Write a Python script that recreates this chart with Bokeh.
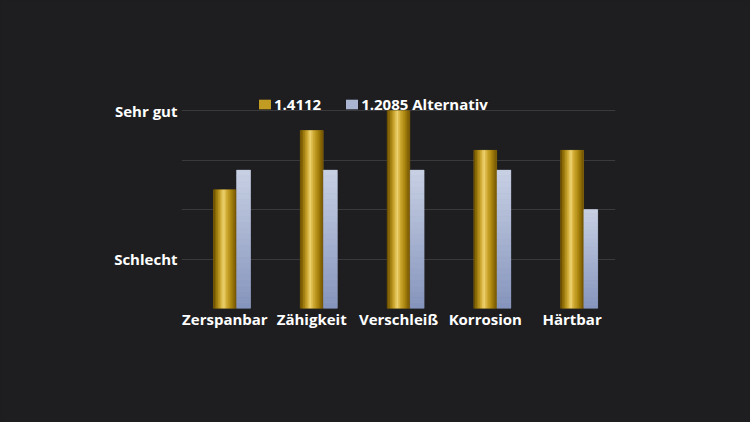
from bokeh.plotting import figure
from bokeh.models import Range1d, FixedTicker, Legend, LegendItem
from bokeh.embed import file_html
from bokeh.resources import INLINE

# Daten
kategorien = ["Zerspanbar", "Zähigkeit", "Verschleiß", "Korrosion", "Härtbar"]
werte_14112 = [2.4, 3.6, 4.0, 3.2, 3.2]
werte_12085 = [2.8, 2.8, 2.8, 2.8, 2.0]
reihen = ["1.4112", "1.2085 Alternativ"]
y_labels = {0: "", 1: "Schlecht", 2: "", 3: "", 4: "Sehr gut"}

BG = "#1e1e20"
FONT = "Open Sans"


def mix(c1, c2, t):
    a = [int(c1[i:i + 2], 16) for i in (1, 3, 5)]
    b = [int(c2[i:i + 2], 16) for i in (1, 3, 5)]
    return "#%02x%02x%02x" % tuple(round(a[k] + (b[k] - a[k]) * t) for k in range(3))


def gradient(stops, t):
    for (t0, c0), (t1, c1) in zip(stops, stops[1:]):
        if t <= t1:
            return mix(c0, c1, (t - t0) / (t1 - t0) if t1 > t0 else 0)
    return stops[-1][1]


gold_stops = [(0.0, "#604600"), (0.15, "#98760a"), (0.33, "#d2ae38"), (0.45, "#f2d878"),
              (0.57, "#d4b03a"), (0.78, "#aa850d"), (1.0, "#6e5003")]
silber_stops = [(0.0, "#8594bc"), (1.0, "#c8d0e4")]

# Rahmen 181..615 x 88..308, y-Skala 0..4.45 (Platz für die Legende)
p = figure(width=750, height=422, output_backend="svg", toolbar_location=None, tools="",
           x_range=Range1d(-0.5, 4.5), y_range=Range1d(0, 4.45),
           background_fill_color=BG, border_fill_color=BG,
           outline_line_color=None,
           min_border_left=181, min_border_right=135, min_border_top=88, min_border_bottom=114)
# dunkler Hintergrund hinter der Zeichenfläche, damit keine hellen Kanten am Rahmen entstehen
p.styles = {"background-color": BG}

w_gold, w_silber, off_silber = 0.265, 0.16, 0.215
xs = list(range(len(kategorien)))

# Grundbalken (für Legende)
r_gold = p.vbar(x=xs, top=werte_14112, width=w_gold, fill_color="#c29c22", line_color=None)
r_silber = p.vbar(x=[x + off_silber for x in xs], top=werte_12085, width=w_silber,
                  fill_color="#aab5d2", line_color=None)

# Goldener Zylinder-Verlauf: senkrechte Streifen
n = 14
gl, gr, gt, gc = [], [], [], []
for x, v in zip(xs, werte_14112):
    for k in range(n):
        gl.append(x - w_gold / 2 + w_gold * k / n)
        gr.append(x - w_gold / 2 + w_gold * (k + 1) / n)
        gt.append(v)
        gc.append(gradient(gold_stops, (k + 0.5) / n))
p.quad(left=gl, right=gr, top=gt, bottom=0, fill_color=gc, line_color=gc, line_width=0.4)

# Silberner Verlauf: waagerechte Streifen
m = 24
sl, sr, sb, st, sc = [], [], [], [], []
for x, v in zip(xs, werte_12085):
    for j in range(m):
        sl.append(x + off_silber - w_silber / 2)
        sr.append(x + off_silber + w_silber / 2)
        sb.append(v * j / m)
        st.append(v * (j + 1) / m)
        sc.append(gradient(silber_stops, (j + 0.5) / m))
p.quad(left=sl, right=sr, top=st, bottom=sb, fill_color=sc, line_color=sc, line_width=0.4)

# Achsen
p.xgrid.visible = False
p.ygrid.grid_line_color = "#3a3a3c"
p.ygrid.grid_line_width = 1
p.ygrid.ticker = FixedTicker(ticks=list(y_labels.keys()))

p.xaxis.ticker = FixedTicker(ticks=xs)
p.xaxis.major_label_overrides = {i: k for i, k in enumerate(kategorien)}
p.yaxis.ticker = FixedTicker(ticks=list(y_labels.keys()))
p.yaxis.major_label_overrides = y_labels
for ax in (p.xaxis[0], p.yaxis[0]):
    ax.axis_line_color = None
    ax.major_tick_line_color = None
    ax.minor_tick_line_color = None
    ax.major_tick_out = 0
    ax.minor_tick_out = 0
    ax.major_label_text_color = "white"
    ax.major_label_text_font = FONT
    ax.major_label_text_font_style = "bold"
    ax.major_label_text_font_size = "15px"
p.xaxis.major_label_standoff = 0
p.yaxis.major_label_standoff = 4

legend = Legend(items=[LegendItem(label=reihen[0], renderers=[r_gold]),
                       LegendItem(label=reihen[1], renderers=[r_silber])],
                orientation="horizontal", location=(76, 194),
                background_fill_alpha=0, border_line_color=None,
                padding=0, margin=0, spacing=23, label_standoff=2,
                glyph_width=15, glyph_height=12,
                label_text_color="white", label_text_font=FONT,
                label_text_font_style="bold", label_text_font_size="15px")
p.add_layout(legend, "center")

open("out.html", "w").write(file_html(p, INLINE))
